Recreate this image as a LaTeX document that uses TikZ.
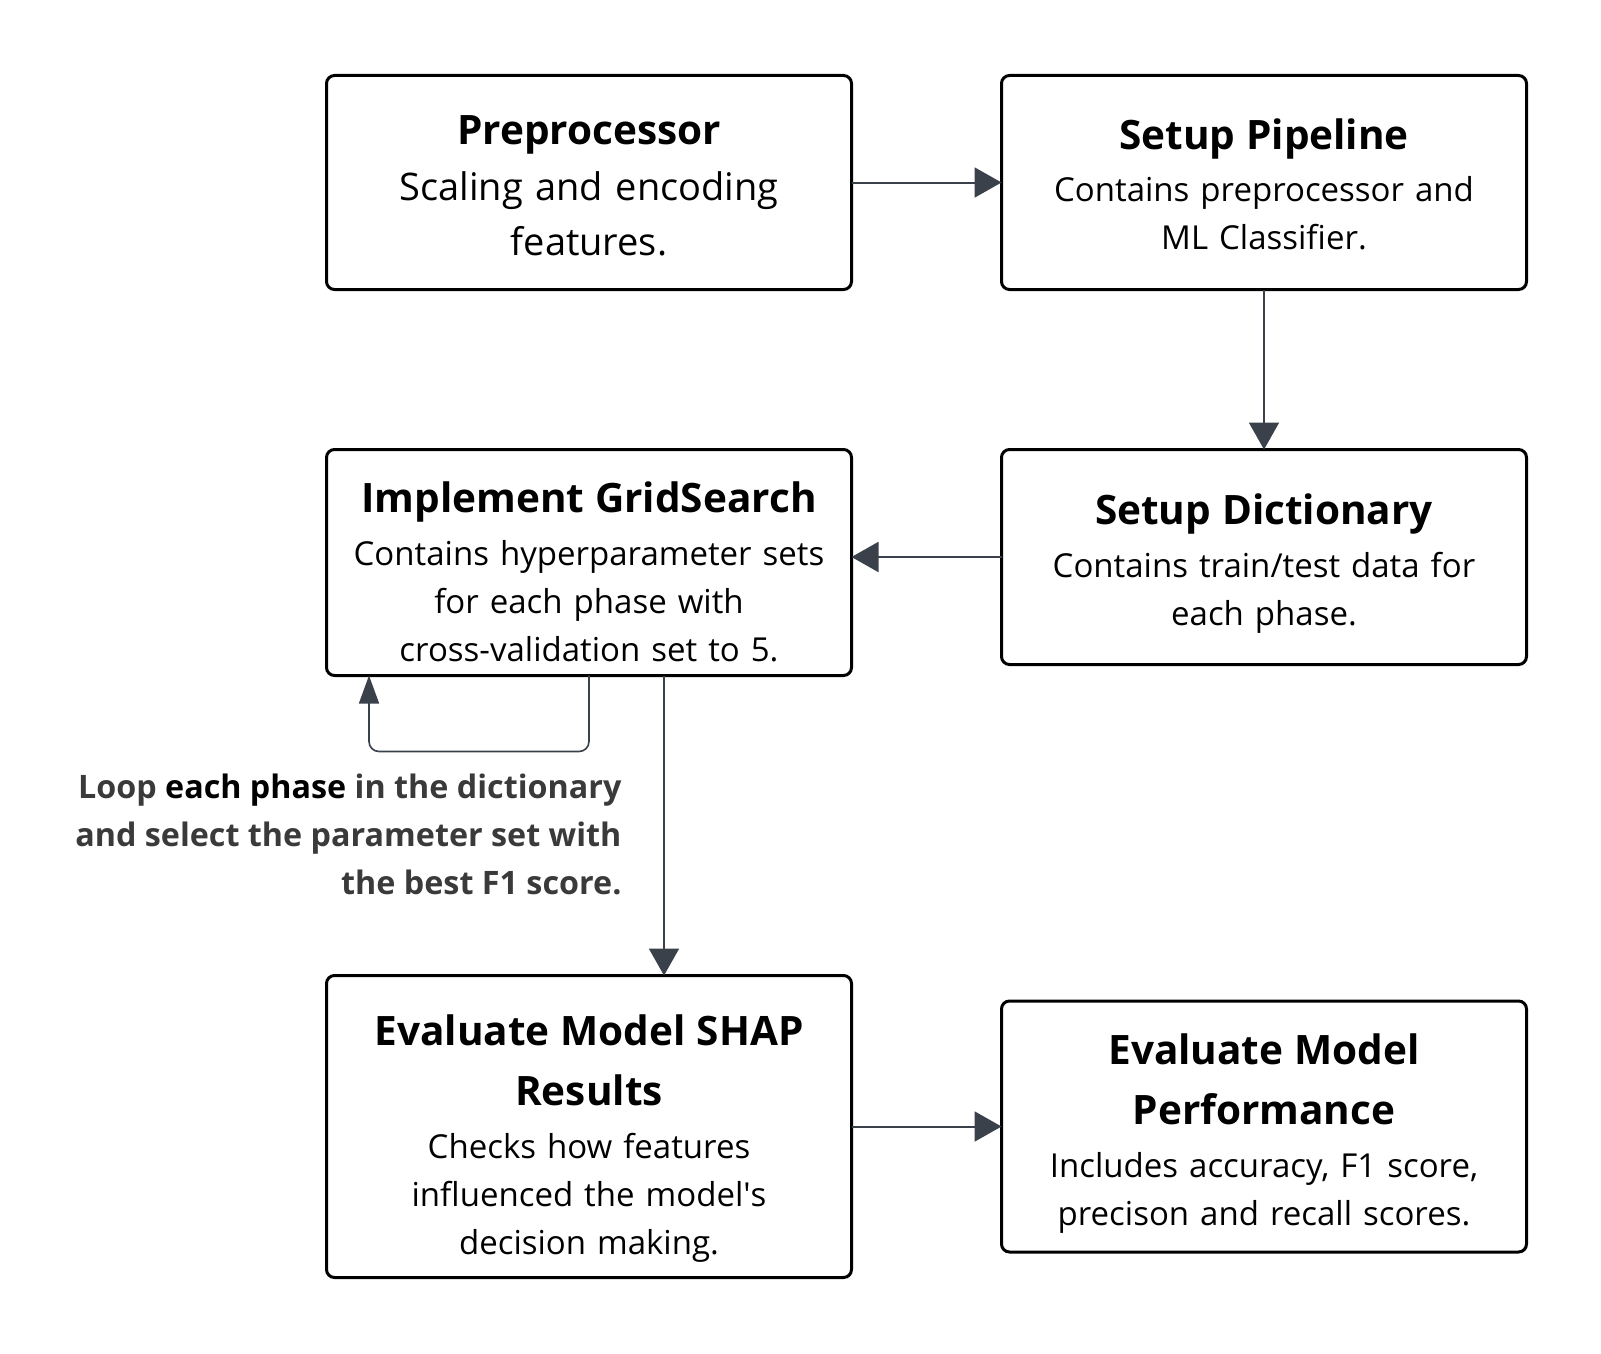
\documentclass[tikz,border=0pt]{standalone}
\usepackage{fontspec}
\setmainfont{Open Sans}
\usepackage{xcolor}
\usetikzlibrary{arrows.meta, positioning, calc}

\definecolor{linkgray}{HTML}{3B414B}
\definecolor{notegray}{HTML}{3A3A3A}
\newcommand{\steptitle}[1]{{\fontsize{40.5}{48}\selectfont\bfseries #1}}

\begin{document}
\begin{tikzpicture}[
    x=1pt, y=-1pt,
    stepbox/.style={draw=black, line width=3pt, rounded corners=8pt, fill=white, align=center,
        text width=510pt, minimum width=525pt, inner sep=4pt, outer sep=0pt,
        font=\fontsize{33}{48}\selectfont},
    flow/.style={draw=linkgray, line width=2pt, -{Triangle[length=27pt, width=30pt]}},
    loopflow/.style={draw=linkgray, line width=1.6pt, rounded corners=10pt, -{Triangle[length=28pt, width=20pt]}}
]
    \useasboundingbox (0,0) rectangle (1601,1354);

    % Top Row
    \node[stepbox, minimum height=214pt, font=\fontsize{38}{55}\selectfont] (prep) at (589,182.5) {
        \rule{0pt}{35pt}\steptitle{Preprocessor}\\[1pt]
        Scaling and encoding\\
        features.
    };
    \node[stepbox, minimum height=214pt, right=150pt of prep] (pipe) {
        \rule{0pt}{35pt}\steptitle{Setup Pipeline}\\[4pt]
        Contains preprocessor and\\
        ML Classifier.
    };

    % Middle Row
    \node[stepbox, minimum height=215pt, below=160pt of pipe] (dict) {
        \rule{0pt}{43pt}\steptitle{Setup Dictionary}\\[5pt]
        Contains train/test data for\\
        each phase.
    };
    \node[stepbox, minimum height=226pt, left=150pt of dict.north west, anchor=north east] (grid) {
        \rule{0pt}{49pt}\steptitle{Implement GridSearch}\\[5pt]
        Contains hyperparameter sets\\
        for each phase with\\
        cross-validation set to 5.
    };

    % Bottom Row
    \node[stepbox, minimum height=302pt, below=300pt of grid] (shap) {
        \rule{0pt}{55pt}\steptitle{Evaluate Model SHAP}\\[12pt]
        \steptitle{Results}\\[5pt]
        Checks how features\\
        influenced the model\textquotesingle s\\
        decision making.
    };
    \node[stepbox, minimum height=251pt, right=150pt of shap] (perf) {
        \rule{0pt}{45pt}\steptitle{Evaluate Model}\\[12pt]
        \steptitle{Performance}\\[5pt]
        Includes accuracy, F1 score,\\
        precison and recall scores.
    };

    % Connectors
    \draw[flow] (prep.east) -- (pipe.west);
    \draw[flow] (pipe.south) -- (dict.north);
    \draw[flow] (dict.west) -- (dict.west -| grid.east);
    \draw[flow] ([xshift=75pt]grid.south) -- ([xshift=75pt]shap.north);
    \draw[flow] (shap.east) -- (perf.west);

    % Loop Back
    \draw[loopflow] (grid.south) -- ++(0,76) -| ([xshift=-220pt]grid.south);
    \node[anchor=east, align=right, text=notegray, font=\fontsize{32.3}{48}\selectfont\bfseries] (looptext) at (625,834) {
        Loop \textcolor{black}{each phase} in the dictionary\\
        and select the parameter set with\\
        the best F1 score.
    };
\end{tikzpicture}
\end{document}
